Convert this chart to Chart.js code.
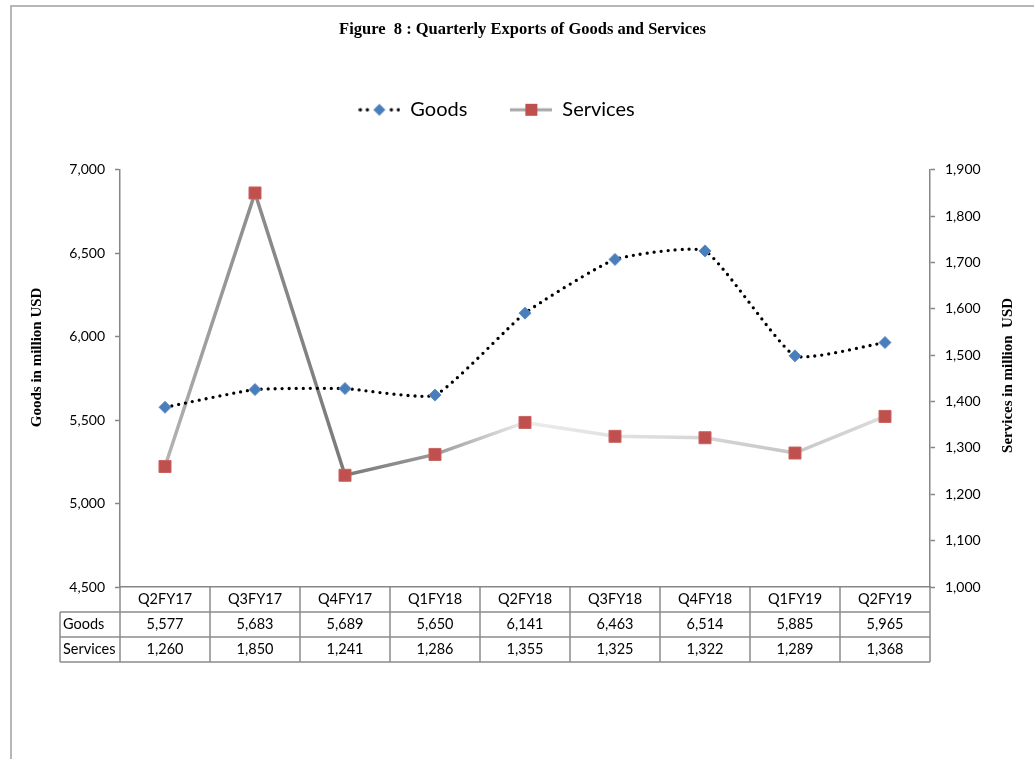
<!DOCTYPE html>
<html>
<head>
<meta charset="utf-8">
<script src="https://cdn.jsdelivr.net/npm/chart.js"></script>
<style>
  html, body { margin: 0; padding: 0; background: #fff; }
</style>
</head>
<body>
<canvas id="exportsChart" width="1034" height="759"></canvas>
<script>
const quarters = ['Q2FY17', 'Q3FY17', 'Q4FY17', 'Q1FY18', 'Q2FY18', 'Q3FY18', 'Q4FY18', 'Q1FY19', 'Q2FY19'];
const goods = [5577, 5683, 5689, 5650, 6141, 6463, 6514, 5885, 5965];
const services = [1260, 1850, 1241, 1286, 1355, 1325, 1322, 1289, 1368];
const goodsTicks = [4500, 5000, 5500, 6000, 6500, 7000];
const servicesTicks = [1000, 1100, 1200, 1300, 1400, 1500, 1600, 1700, 1800, 1900];
const rowNames = ['Goods', 'Services'];

const figureTitle = 'Figure  8 : Quarterly Exports of Goods and Services';
const goodsTitle = 'Goods in million USD';
const servicesTitle = 'Services in million  USD';

const fmt = v => v.toLocaleString('en-US');
const axisGrey = '#868686';

// small pictures for the legend: line + marker, like the excel legend
function legendIcon(kind) {
  const c = document.createElement('canvas');
  c.width = 42; c.height = 20;
  const g = c.getContext('2d');
  if (kind === 'goods') {
    g.fillStyle = '#000';
    [2, 9, 33, 40].forEach(x => { g.beginPath(); g.arc(x, 10, 1.7, 0, Math.PI * 2); g.fill(); });
    g.fillStyle = '#4a7ebb';
    g.beginPath(); g.moveTo(21, 4); g.lineTo(27, 10); g.lineTo(21, 16); g.lineTo(15, 10); g.closePath(); g.fill();
  } else {
    g.strokeStyle = '#a6a6a6'; g.lineWidth = 3;
    g.beginPath(); g.moveTo(0, 10); g.lineTo(42, 10); g.stroke();
    g.fillStyle = '#c0504d'; g.fillRect(15, 4, 12, 12);
  }
  return c;
}

// grey shaded line for services
function servicesStroke(c) {
  const area = c.chart.chartArea;
  if (!area) return '#a6a6a6';
  const g = c.chart.ctx.createLinearGradient(area.left, 0, area.right, 0);
  g.addColorStop(0, '#cfcfcf');
  g.addColorStop(0.1, '#a0a0a0');
  g.addColorStop(0.17, '#8c8c8c');
  g.addColorStop(0.28, '#7a7a7a');
  g.addColorStop(0.39, '#9a9a9a');
  g.addColorStop(0.5, '#ececec');
  g.addColorStop(0.72, '#d6d6d6');
  g.addColorStop(0.83, '#c6c6c6');
  g.addColorStop(1, '#e8e8e8');
  return g;
}

const framePlugin = {
  id: 'frame',
  beforeDraw(chart) {
    const ctx = chart.ctx;
    ctx.save();
    ctx.strokeStyle = '#a0a0a0';
    ctx.lineWidth = 1.5;
    ctx.strokeRect(11, 6, 1200, 900);
    ctx.restore();
  }
};

// excel put the legend a bit left of the middle
const legendShift = {
  id: 'legendShift',
  afterLayout(chart) {
    chart.legend.right -= 52;
  }
};

const axisTitlePlugin = {
  id: 'axisTitles',
  afterDraw(chart) {
    const {ctx, chartArea} = chart;
    const mid = (chartArea.top + chartArea.bottom) / 2;
    ctx.save();
    ctx.font = 'bold 15px "Liberation Serif"';
    ctx.fillStyle = '#000';
    ctx.textAlign = 'center';
    ctx.textBaseline = 'middle';
    ctx.translate(37, mid - 21);
    ctx.rotate(-Math.PI / 2);
    ctx.fillText(goodsTitle, 0, 0);
    ctx.restore();
    ctx.save();
    ctx.font = 'bold 15px "Liberation Serif"';
    ctx.fillStyle = '#000';
    ctx.textAlign = 'center';
    ctx.textBaseline = 'middle';
    ctx.translate(1008, mid - 3);
    ctx.rotate(-Math.PI / 2);
    ctx.fillText(servicesTitle, 0, 0);
    ctx.restore();
  }
};

// data table under the plot, columns follow the x scale
const tablePlugin = {
  id: 'dataTable',
  afterDraw(chart) {
    const {ctx, chartArea, scales} = chart;
    const x = scales.x;
    const colW = (chartArea.right - chartArea.left) / quarters.length;
    const rowH = 25;
    const top = chartArea.bottom;
    const labelLeft = 60;
    ctx.save();
    ctx.strokeStyle = '#8c8c8c';
    ctx.lineWidth = 1.5;
    ctx.beginPath();
    for (let r = 1; r <= 3; r++) {
      ctx.moveTo(labelLeft, top + r * rowH);
      ctx.lineTo(chartArea.right, top + r * rowH);
    }
    ctx.moveTo(labelLeft, top + rowH);
    ctx.lineTo(labelLeft, top + 3 * rowH);
    for (let i = 0; i <= quarters.length; i++) {
      const xx = chartArea.left + i * colW;
      ctx.moveTo(xx, top);
      ctx.lineTo(xx, top + 3 * rowH);
    }
    ctx.stroke();

    ctx.font = '14.5px Lato';
    ctx.fillStyle = '#000';
    ctx.textBaseline = 'middle';
    ctx.textAlign = 'center';
    quarters.forEach((q, i) => {
      const cx = x.getPixelForValue(i);
      ctx.fillText(q, cx, top + rowH * 0.5);
      ctx.fillText(fmt(goods[i]), cx, top + rowH * 1.5);
      ctx.fillText(fmt(services[i]), cx, top + rowH * 2.5);
    });
    ctx.textAlign = 'left';
    rowNames.forEach((n, r) => ctx.fillText(n, labelLeft + 3, top + rowH * (r + 1.5)));
    ctx.restore();
  }
};

new Chart(document.getElementById('exportsChart'), {
  type: 'line',
  data: {
    labels: quarters,
    datasets: [
      {
        label: 'Goods',
        data: goods,
        yAxisID: 'y',
        borderColor: '#000',
        borderWidth: 3.3,
        borderDash: [0, 7],
        borderCapStyle: 'round',
        tension: 0.15,
        pointStyle: 'rectRot',
        pointRadius: 6,
        pointBackgroundColor: '#4a7ebb',
        pointBorderColor: '#5b8cc8',
        pointBorderWidth: 1
      },
      {
        label: 'Services',
        data: services,
        yAxisID: 'y1',
        borderColor: servicesStroke,
        borderWidth: 3.5,
        tension: 0,
        pointStyle: 'rect',
        pointRadius: 8.5,
        pointBackgroundColor: '#c0504d',
        pointBorderColor: '#c96462',
        pointBorderWidth: 1
      }
    ]
  },
  options: {
    responsive: false,
    animation: false,
    layout: { padding: { left: 11, right: 0, top: 0, bottom: 172 } },
    plugins: {
      title: {
        display: true,
        text: figureTitle,
        color: '#000',
        font: { family: '"Liberation Serif"', size: 16.5, weight: 'bold' },
        padding: { top: 20, bottom: 17 }
      },
      legend: {
        display: true,
        position: 'top',
        labels: {
          usePointStyle: true,
          pointStyleWidth: 42,
          padding: 43,
          color: '#000',
          font: { family: 'Lato', size: 20 },
          generateLabels: chart => chart.data.datasets.map((ds, i) => ({
            text: ds.label,
            pointStyle: legendIcon(i === 0 ? 'goods' : 'services'),
            datasetIndex: i,
            hidden: false,
            fontColor: '#000',
            lineWidth: 0
          }))
        }
      },
      subtitle: {
        display: true,
        text: '',
        position: 'top',
        weight: 500,
        font: { size: 10 },
        padding: { top: 14, bottom: 14 }
      },
      tooltip: { enabled: false }
    },
    scales: {
      x: {
        type: 'category',
        offset: true,
        grid: { display: false, drawTicks: false },
        ticks: { display: false },
        border: { display: true, color: axisGrey, width: 1.5 },
        afterFit: s => { s.height = 0; }
      },
      y: {
        position: 'left',
        min: goodsTicks[0],
        max: goodsTicks[goodsTicks.length - 1],
        afterBuildTicks: s => { s.ticks = goodsTicks.map(v => ({ value: v })); },
        grid: { drawOnChartArea: false, drawTicks: true, tickLength: 5, tickColor: axisGrey, tickWidth: 1.5 },
        border: { display: true, color: axisGrey, width: 1.5 },
        ticks: { color: '#000', padding: 10, font: { family: 'Lato', size: 14 }, callback: v => fmt(v) },
        afterFit: s => { s.width = 109; }
      },
      y1: {
        position: 'right',
        min: servicesTicks[0],
        max: servicesTicks[servicesTicks.length - 1],
        afterBuildTicks: s => { s.ticks = servicesTicks.map(v => ({ value: v })); },
        grid: { drawOnChartArea: false, drawTicks: true, tickLength: 5, tickColor: axisGrey, tickWidth: 1.5 },
        border: { display: true, color: axisGrey, width: 1.5 },
        ticks: { color: '#000', padding: 10, font: { family: 'Lato', size: 14 }, callback: v => fmt(v) },
        afterFit: s => { s.width = 104; }
      }
    }
  },
  plugins: [framePlugin, legendShift, axisTitlePlugin, tablePlugin]
});
</script>
</body>
</html>
